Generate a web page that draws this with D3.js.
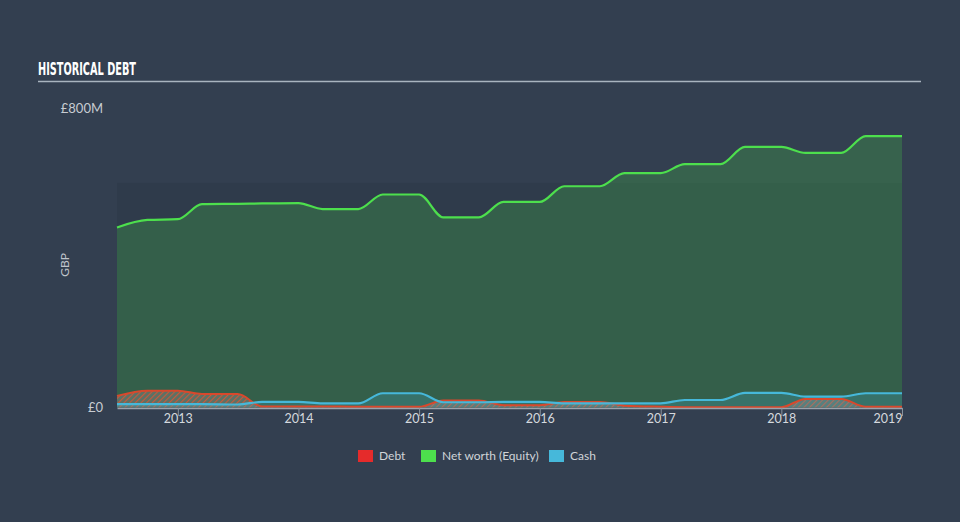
<!DOCTYPE html>
<html>
<head>
<meta charset="utf-8">
<script src="https://cdn.jsdelivr.net/npm/d3@7"></script>
<style>
  html, body { margin: 0; padding: 0; background: #333f50; }
  svg { display: block; }
  text { font-family: Lato, "Open Sans", sans-serif; }
</style>
</head>
<body>
<svg id="chart" width="960" height="522"></svg>
<script>
// ---- data (GBP millions) ----
const dates = ["2012-07-01","2012-10-01","2013-01-01","2013-03-15","2013-07-01","2013-09-13",
  "2014-01-01","2014-03-15","2014-07-01","2014-09-13","2015-01-01","2015-03-15","2015-07-01",
  "2015-09-13","2016-01-01","2016-03-15","2016-07-01","2016-09-13","2017-01-01","2017-03-15",
  "2017-07-01","2017-09-13","2018-01-01","2018-03-15","2018-07-01","2018-09-13","2019-01-01"];
const equity = [481,501,503,543,544,545,546,530,530,569,569,508,508,549,549,591,591,626,626,650,650,696,696,680,680,725,725];
const debt   = [31,45,45,36,36,3,3,3,2,2,2,19,19,6,6,15,15,5,2,1,1,1,1,23,23,2,2];
const cash   = [9,9,9,9,8,15,15,11,11,38,38,14,14,15,15,11,11,11,11,20,20,39,39,29,29,38,38];
const xTickYears = [2013,2014,2015,2016,2017,2018,2019];
const yTickValues = [0, 800];
const yTickLabels = ["£0", "£800M"];
const bandTop = 600;
const legendItems = [
  {label: "Debt", color: "#e52b2b"},
  {label: "Net worth (Equity)", color: "#4ddf4d"},
  {label: "Cash", color: "#46b8da"}
];

const parse = d3.timeParse("%Y-%m-%d");
const rows = dates.map((d, i) => ({date: parse(d), equity: equity[i], debt: debt[i], cash: cash[i]}));

const svg = d3.select("#chart");
const W = 960, H = 522;
const x = d3.scaleTime().domain([parse("2012-07-01"), parse("2019-01-01")]).range([117, 902]);
const y = d3.scaleLinear().domain([0, 800]).range([407.5, 108]);

svg.append("rect").attr("width", W).attr("height", H).attr("fill", "#333f50");

// title
svg.append("text").attr("x", 38).attr("y", 75)
  .text("HISTORICAL DEBT")
  .attr("fill", "#ffffff").attr("font-size", 18.5).attr("font-weight", "bold")
  .style("font-family", "'Liberation Sans Narrow', 'DejaVu Sans Condensed', sans-serif")
  .attr("textLength", 98).attr("lengthAdjust", "spacingAndGlyphs");
svg.append("line").attr("x1", 38).attr("x2", 921).attr("y1", 81.5).attr("y2", 81.5)
  .attr("stroke", "#a9b4bf").attr("stroke-width", 1.6);

// plot band
svg.append("rect").attr("x", x.range()[0]).attr("width", x.range()[1] - x.range()[0])
  .attr("y", y(bandTop)).attr("height", y(0) - y(bandTop)).attr("fill", "#2f3b4b");

// hatch pattern
const defs = svg.append("defs");
const pat = defs.append("pattern").attr("id", "hatch").attr("patternUnits", "userSpaceOnUse")
  .attr("width", 4).attr("height", 4).attr("patternTransform", "rotate(45)");
pat.append("rect").attr("width", 4).attr("height", 4).attr("fill", "#7d8079").attr("opacity", 0.55);
pat.append("line").attr("x1", 0).attr("y1", 0).attr("x2", 0).attr("y2", 4)
  .attr("stroke", "#c85a3c").attr("stroke-width", 2.2);

const curve = d3.curveMonotoneX;
const area = key => d3.area().curve(curve).x(d => x(d.date)).y0(y(0)).y1(d => y(d[key]));
const line = key => d3.line().curve(curve).x(d => x(d.date)).y(d => y(d[key]));

svg.append("path").datum(rows).attr("d", area("equity")).attr("fill", "#47d647").attr("fill-opacity", 0.24);
svg.append("path").datum(rows).attr("d", area("debt")).attr("fill", "url(#hatch)");
svg.append("path").datum(rows).attr("d", area("cash")).attr("fill", "#46b8da").attr("fill-opacity", 0.22);

svg.append("path").datum(rows).attr("d", line("equity")).attr("fill", "none")
  .attr("stroke", "#4ddf4d").attr("stroke-width", 2.2);
svg.append("path").datum(rows).attr("d", line("debt")).attr("fill", "none")
  .attr("stroke", "#d9482c").attr("stroke-width", 2);
svg.append("path").datum(rows).attr("d", line("cash")).attr("fill", "none")
  .attr("stroke", "#46b8da").attr("stroke-width", 2.2);

// x axis
const xAxis = d3.axisBottom(x)
  .tickValues(xTickYears.map(yr => new Date(yr, 0, 1)))
  .tickFormat(d3.timeFormat("%Y")).tickSize(8).tickSizeOuter(0);
const gx = svg.append("g").attr("transform", `translate(0,${y(0) + 0.5})`).call(xAxis);
gx.select(".domain").attr("stroke", "#9aa3ad").attr("stroke-width", 1.5);
gx.selectAll(".tick line").attr("stroke", "#8a949e");
gx.selectAll(".tick text").attr("fill", "#d5d9de").attr("font-size", 12.5)
  .attr("dy", "0.35em").style("font-family", "Lato, 'Open Sans', sans-serif")
  .attr("text-anchor", (d, i, n) => i === n.length - 1 ? "end" : "middle");

// y labels
svg.selectAll(".ylab").data(yTickValues).enter().append("text")
  .attr("class", "ylab").attr("x", 103).attr("y", d => y(d))
  .attr("dy", "0.35em").attr("text-anchor", "end")
  .attr("fill", "#c8ccd2").attr("font-size", 13)
  .text((d, i) => yTickLabels[i]);
svg.append("text").attr("transform", "translate(69,265) rotate(-90)")
  .attr("text-anchor", "middle").attr("fill", "#c0c5cc").attr("font-size", 12).text("GBP");

// legend
const lg = svg.append("g");
const positions = [358, 421, 549];
legendItems.forEach((it, i) => {
  const g = lg.append("g").attr("transform", `translate(${positions[i]},450)`);
  g.append("rect").attr("width", 15).attr("height", 12).attr("fill", it.color);
  g.append("text").attr("x", 21).attr("y", 6).attr("dy", "0.35em")
    .attr("fill", "#d0d4d8").attr("font-size", 12).text(it.label);
});
</script>
</body>
</html>
